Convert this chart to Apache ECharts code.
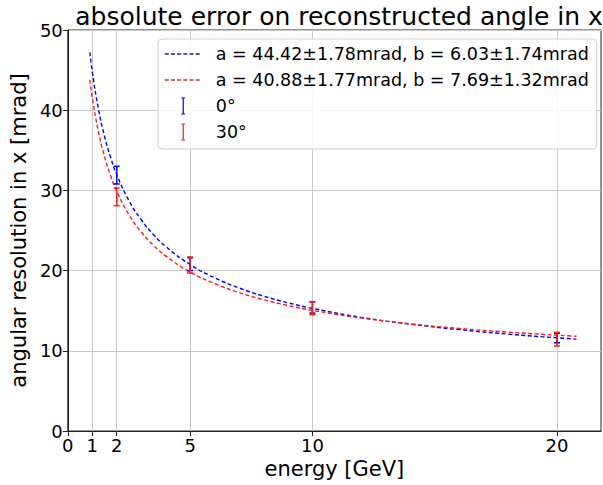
<!DOCTYPE html>
<html><head><meta charset="utf-8">
<script src="https://cdn.jsdelivr.net/npm/echarts@6/dist/echarts.min.js"></script>
<style>html,body{margin:0;padding:0;background:#fff}#c{width:603px;height:485px}</style>
</head><body><div id="c"></div>
<script>
// ---- data ----
const xTicks = [0, 1, 2, 5, 10, 20];
const energies = [2, 5, 10, 20];
const res0 = [31.9, 20.8, 15.4, 11.6];
const err0 = [1.1, 0.8, 0.7, 0.6];
const res30 = [29.2, 20.7, 15.3, 11.45];
const err30 = [1.1, 1.0, 0.8, 0.85];
const fitE  = [0.9, 1, 1.25, 1.5, 1.75, 2, 2.5, 3, 3.5, 4, 5, 6, 7, 8, 9, 10, 12, 14, 16, 18, 20, 20.8];
const fit0  = [47.21, 44.83, 40.19, 36.77, 34.12, 31.98, 28.73, 26.35, 24.50, 23.01, 20.76, 19.11, 17.84, 16.82, 15.99, 15.29, 14.17, 13.32, 12.64, 12.08, 11.62, 11.46];
const fit30 = [43.77, 41.60, 37.36, 34.25, 31.85, 29.91, 26.97, 24.82, 23.16, 21.84, 19.83, 18.38, 17.26, 16.37, 15.65, 15.04, 14.09, 13.36, 12.79, 12.33, 11.95, 11.81];
const label0 = 'a = 44.42±1.78mrad, b = 6.03±1.74mrad';
const label30 = 'a = 40.88±1.77mrad, b = 7.69±1.32mrad';
const name0 = '0°', name30 = '30°';

const FONT = 'DejaVu Sans';
const BLUE = '#0000ee', RED = '#ff1a1a';

function errRender(color) {
  return function (params, api) {
    const x = api.value(0), y = api.value(1), e = api.value(2);
    const top = api.coord([x, y + e]);
    const bot = api.coord([x, y - e]);
    const cw = 3;
    const st = { stroke: color, lineWidth: 1.5 };
    return { type: 'group', children: [
      { type: 'line', shape: { x1: top[0], y1: top[1], x2: bot[0], y2: bot[1] }, style: st },
      { type: 'line', shape: { x1: top[0] - cw, y1: top[1], x2: top[0] + cw, y2: top[1] }, style: st },
      { type: 'line', shape: { x1: bot[0] - cw, y1: bot[1], x2: bot[0] + cw, y2: bot[1] }, style: st }
    ]};
  };
}
const iPath = 'path://M0,0 H4 V1 H2.6 V16 H4 V17 H0 V16 H1.4 V1 H0 Z';
const hidden = { color: 'rgba(0,0,0,0)', borderWidth: 0, opacity: 0 };

const chart = echarts.init(document.getElementById('c'), null, { renderer: 'svg' });
chart.setOption({
  animation: false,
  backgroundColor: '#fff',
  title: {
    text: 'absolute error on reconstructed angle in x',
    left: 334, textAlign: 'center', top: -1,
    textStyle: { fontFamily: FONT, fontSize: 25, fontWeight: 'normal', color: '#000' }
  },
  grid: { left: 66, top: 30, right: 2, bottom: 54, show: true, borderColor: '#222', borderWidth: 1, backgroundColor: 'transparent' },
  legend: {
    orient: 'vertical', left: 158, top: 39,
    padding: [6, 8, 8, 6], itemGap: 8,
    itemWidth: 37, itemHeight: 17,
    backgroundColor: 'rgba(255,255,255,0.85)', borderColor: '#d0d0d0', borderWidth: 1, borderRadius: 4,
    textStyle: { fontFamily: FONT, fontSize: 17.5, color: '#000', padding: [0, 0, 0, 9] },
    data: [
      { name: label0, itemStyle: hidden, lineStyle: { color: '#1f1fa0', width: 1.5, type: [4, 2.2] } },
      { name: label30, itemStyle: hidden, lineStyle: { color: '#b03a3a', width: 1.5, type: [4, 2.2] } },
      { name: name0, icon: iPath },
      { name: name30, icon: iPath }
    ]
  },
  xAxis: {
    type: 'value', min: 0, max: 21.8,
    name: 'energy [GeV]', nameLocation: 'middle', nameGap: 21,
    nameTextStyle: { fontFamily: FONT, fontSize: 21, color: '#000' },
    axisLine: { show: true, lineStyle: { color: '#222' } },
    axisTick: { show: true, length: 5, customValues: xTicks, lineStyle: { color: '#222' } },
    axisLabel: { customValues: xTicks, fontFamily: FONT, fontSize: 18, color: '#000', margin: 5 },
    splitLine: { show: true, lineStyle: { color: '#c8c8c8', width: 1 } }
  },
  yAxis: {
    type: 'value', min: 0, max: 50, interval: 10,
    name: 'angular resolution in x [mrad]', nameLocation: 'middle', nameGap: 32,
    nameTextStyle: { fontFamily: FONT, fontSize: 21, color: '#000' },
    axisLine: { show: true, lineStyle: { color: '#222' } },
    axisTick: { show: true, length: 5, lineStyle: { color: '#222' } },
    axisLabel: { fontFamily: FONT, fontSize: 18, color: '#000', margin: 5 },
    splitLine: { show: true, lineStyle: { color: '#c8c8c8', width: 1 } }
  },
  series: [
    { name: label0, type: 'line', smooth: true, symbol: 'none', z: 3,
      data: fitE.map((e, i) => [e, fit0[i]]),
      itemStyle: { color: '#1f1fa0' },
      lineStyle: { color: BLUE, width: 1.4, type: [4, 2.5] } },
    { name: label30, type: 'line', smooth: true, symbol: 'none', z: 3,
      data: fitE.map((e, i) => [e, fit30[i]]),
      itemStyle: { color: '#b03a3a' },
      lineStyle: { color: RED, width: 1.4, type: [4, 2.5] } },
    { name: name0, type: 'custom', z: 4, itemStyle: { color: BLUE },
      renderItem: errRender(BLUE), encode: { x: 0, y: 1 },
      data: energies.map((e, i) => [e, res0[i], err0[i]]) },
    { name: name30, type: 'custom', z: 5, itemStyle: { color: RED },
      renderItem: errRender(RED), encode: { x: 0, y: 1 },
      data: energies.map((e, i) => [e, res30[i], err30[i]]) }
  ]
});
</script></body></html>
